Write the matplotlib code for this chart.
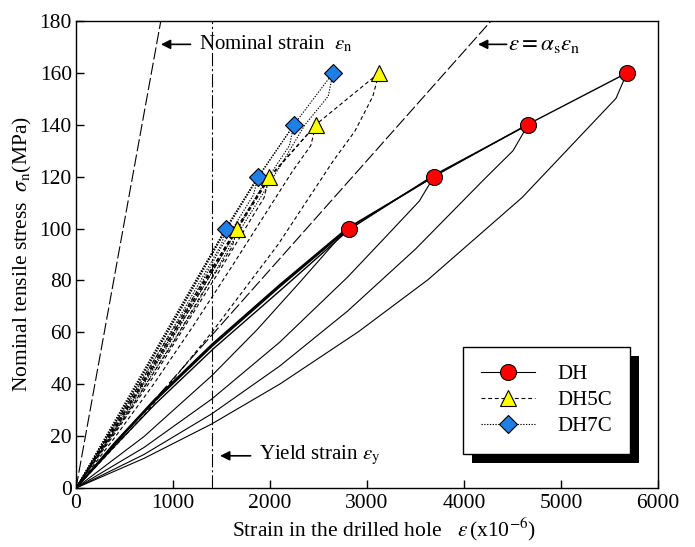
import matplotlib
matplotlib.use('Agg')
import matplotlib.pyplot as plt
from matplotlib.lines import Line2D
from matplotlib.patches import Rectangle

plt.rcParams['font.family'] = ['Liberation Serif', 'DejaVu Serif']
plt.rcParams['mathtext.fontset'] = 'stix'

# 荷重レベル (MPa)
stress_levels = [100, 120, 140, 160]

# ピーク点 (x10^-6, MPa)
dh_peak_x = [2810, 3690, 4660, 5680]
dh5c_peak_x = [1660, 1990, 2474, 3124]
dh7c_peak_x = [1546, 1876, 2247, 2650]

# DH 載荷曲線 (各サイクル)
dh_load = [
    ([0, 400, 800, 1400, 2100, 2810], [0, 17, 33, 54.5, 77.5, 100]),
    ([0, 400, 800, 1400, 2100, 2790, 3690], [0, 17.6, 33.8, 55.4, 78.4, 100, 120]),
    ([0, 410, 820, 1420, 2120, 2815, 3700, 4660], [0, 16.6, 32.5, 53.8, 76.6, 99.6, 120.8, 140]),
    ([0, 400, 800, 1400, 2100, 2820, 3705, 4665, 5680], [0, 17.3, 33.4, 55, 78, 100.4, 120.4, 140.3, 160]),
]
# DH 除荷曲線
dh_unload = [
    ([2810, 2700, 2300, 1866, 1400, 700, 0], [100, 96, 79, 61, 43.3, 19.8, 0]),
    ([3690, 3539, 3200, 2800, 2100, 1400, 700, 0], [120, 110.6, 97.1, 81.3, 56.2, 34.3, 15.6, 0]),
    ([4660, 4505, 4200, 3500, 2800, 2100, 1400, 700, 0], [140, 130, 118.7, 92.1, 68.2, 47, 28.6, 12.9, 0]),
    ([5680, 5567, 4600, 3629, 2910, 2103, 1400, 700, 0], [160, 150.2, 112, 80.3, 60.2, 40.1, 24.7, 11.4, 0]),
]

# DH5C
dh5c_load = [
    ([0, 400, 800, 1200, 1660], [0, 24.5, 49, 73, 100]),
    ([0, 410, 810, 1210, 1650, 1990], [0, 24, 48.5, 72.5, 100, 120]),
    ([0, 415, 820, 1220, 1665, 2000, 2474], [0, 24.2, 48.8, 72.8, 100.3, 120.3, 140]),
    ([0, 420, 830, 1230, 1670, 2005, 2480, 3124], [0, 24, 48.4, 72.4, 100, 120, 140.3, 160]),
]
dh5c_unload = [
    ([1660, 1610, 1300, 1000, 500, 0], [100, 93, 75, 56, 27, 0]),
    ([1990, 1940, 1500, 1100, 800, 400, 0], [120, 112, 85, 61, 43, 21, 0]),
    ([2474, 2420, 2230, 1600, 1200, 800, 400, 0], [140, 132, 122, 85, 62, 40, 19.5, 0]),
    ([3124, 3060, 2876, 2650, 2086, 1400, 700, 0], [160, 151, 137.6, 126, 94, 60, 28, 0]),
]

# DH7C
dh7c_load = [
    ([0, 400, 800, 1200, 1546], [0, 26, 52, 78, 100]),
    ([0, 405, 805, 1205, 1540, 1876], [0, 25.6, 51.6, 77.5, 100, 120]),
    ([0, 410, 810, 1210, 1550, 1880, 2247], [0, 25.8, 51.8, 77.8, 100.2, 120.2, 140]),
    ([0, 415, 815, 1215, 1555, 1885, 2250, 2650], [0, 25.5, 51.4, 77.4, 100, 120, 140.2, 160]),
]
dh7c_unload = [
    ([1546, 1500, 1100, 800, 400, 0], [100, 94, 68, 49, 24, 0]),
    ([1876, 1830, 1500, 1100, 800, 400, 0], [120, 113, 93, 66, 47, 22.5, 0]),
    ([2247, 2200, 1900, 1400, 1000, 500, 0], [140, 132, 115, 83, 58, 28, 0]),
    ([2650, 2600, 2360, 2120, 1600, 1200, 600, 0], [160, 151, 140, 125, 94, 68, 33, 0]),
]

# 参照線
nominal_x = [0, 874]
nominal_y = [0, 180]
alpha_x = [0, 4278]
alpha_y = [0, 180]
yield_strain = 1400

fig = plt.figure(figsize=(6.95, 5.47), dpi=100)
ax = fig.add_axes([0.1094, 0.1079, 0.8374, 0.8537])

lw = 0.8
ls_5c = (0, (3.5, 2.5))
ls_7c = (0, (1.2, 1.3))

# 参照線
ax.plot(nominal_x, nominal_y, color='black', lw=lw, ls=(0, (11, 3)))
ax.plot(alpha_x, alpha_y, color='black', lw=lw, ls=(0, (11, 3)))
ax.axvline(yield_strain, color='black', lw=lw, ls=(0, (12, 2.5, 2, 2.5)))

for x, y in dh_load:
    ax.plot(x, y, color='black', lw=1.0)
for x, y in dh_unload:
    ax.plot(x, y, color='black', lw=lw)
for x, y in dh5c_load + dh5c_unload:
    ax.plot(x, y, color='black', lw=lw, ls=ls_5c)
for x, y in dh7c_load + dh7c_unload:
    ax.plot(x, y, color='black', lw=lw, ls=ls_7c)

ax.plot(dh7c_peak_x, stress_levels, ls='none', marker='D', ms=9.5, mfc='#1E7FE6', mec='black', mew=0.8, zorder=4)
ax.plot(dh5c_peak_x, stress_levels, ls='none', marker='^', ms=12, mfc='#FFFF00', mec='black', mew=0.8, zorder=4)
ax.plot(dh_peak_x, stress_levels, ls='none', marker='o', ms=11.5, mfc='#FF0000', mec='black', mew=0.8, zorder=4)

ax.set_xlim(0, 6000)
ax.set_ylim(0, 180)
ax.set_xticks(range(0, 6001, 1000))
ax.set_yticks(range(0, 181, 20))
ax.tick_params(direction='in', length=6, width=1, labelsize=15.5)
ax.tick_params(axis='x', pad=4)
ax.tick_params(axis='y', pad=3)
for s in ax.spines.values():
    s.set_linewidth(1.0)

ax.set_xlabel(r'Strain in the drilled hole   $\varepsilon\,$(x10$^{-6}$)', fontsize=15.5, labelpad=2)
ax.xaxis.label.set_x(0.53)
ax.set_ylabel(r'Nominal tensile stress  $\sigma_{\rm n}$(MPa)', fontsize=15.5, labelpad=4)

arrow = dict(arrowstyle='-|>', color='black', lw=1.2, mutation_scale=14, shrinkA=0, shrinkB=0)
ax.annotate('', xy=(875, 171), xytext=(1180, 171), arrowprops=arrow)
ax.text(1268, 171, r'Nominal strain  $\varepsilon_{\rm n}$', fontsize=15, va='center')
ax.annotate('', xy=(4144, 171), xytext=(4440, 171), arrowprops=arrow)
ax.text(4450, 171, r'$\varepsilon = \alpha_{\rm s}\varepsilon_{\rm n}$', fontsize=16.5, va='center')
ax.annotate('', xy=(1485, 12.4), xytext=(1800, 12.4), arrowprops=arrow)
ax.text(1887, 12.4, r'Yield strain $\varepsilon_{\rm y}$', fontsize=15, va='center')

handles = [
    Line2D([], [], color='black', lw=lw, marker='o', ms=11.5, mfc='#FF0000', mec='black', mew=0.8),
    Line2D([], [], color='black', lw=lw, ls=ls_5c, marker='^', ms=12, mfc='#FFFF00', mec='black', mew=0.8),
    Line2D([], [], color='black', lw=lw, ls=ls_7c, marker='D', ms=9.5, mfc='#1E7FE6', mec='black', mew=0.8),
]
leg = ax.legend(handles, ['DH', 'DH5C', 'DH7C'], loc='upper right', bbox_to_anchor=(0.952, 0.302),
                fontsize=15, frameon=True, fancybox=False, edgecolor='black', framealpha=1,
                handlelength=2.6, handletextpad=1.1, borderpad=0.85, labelspacing=0.3,
                borderaxespad=0, numpoints=1)
leg.get_frame().set_linewidth(1.0)

# 凡例の影
fig.canvas.draw()
bb = leg.get_window_extent().transformed(ax.transAxes.inverted())
dx = 9 / (ax.bbox.width)
dy = 9 / (ax.bbox.height)
shadow = Rectangle((bb.x0 + dx, bb.y0 - dy), bb.width, bb.height, transform=ax.transAxes,
                   facecolor='black', edgecolor='none', zorder=4.9, clip_on=False)
ax.add_patch(shadow)

fig.savefig('out.png', dpi=100)
